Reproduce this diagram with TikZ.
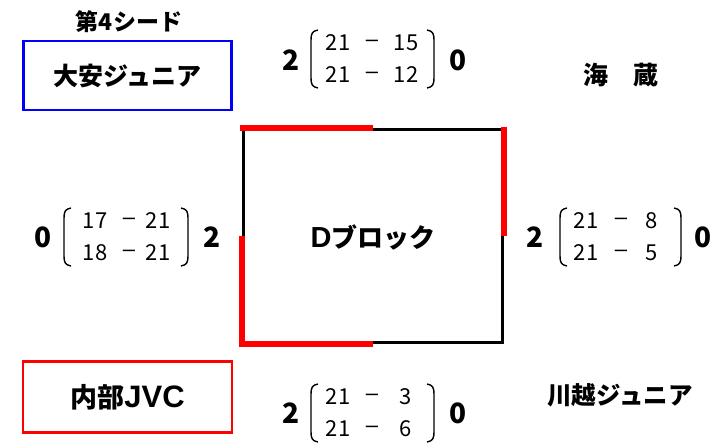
\documentclass[tikz,border=0pt]{standalone}
\usepackage{fontspec}
\setmainfont{Noto Sans CJK JP}
\newfontfamily\lat{Liberation Sans}
\newcommand\lparen[3]{\draw[parline] ({#1+7},{#2}) .. controls ({#1+1},{#2+1}) and ({#1},{#2+4}) .. ({#1},{#2+10}) -- ({#1},{#3-10}) .. controls ({#1},{#3-4}) and ({#1+1},{#3-1}) .. ({#1+7},{#3});}
\newcommand\rparen[3]{\draw[parline] ({#1-7},{#2}) .. controls ({#1-1},{#2+1}) and ({#1},{#2+4}) .. ({#1},{#2+10}) -- ({#1},{#3-10}) .. controls ({#1},{#3-4}) and ({#1-1},{#3-1}) .. ({#1-7},{#3});}
\tikzset{
  big/.style={font=\bfseries\fontsize{28}{28}\selectfont, inner sep=0pt},
  sc/.style={font=\fontsize{22}{22}\selectfont, inner sep=0pt},
  dsh/.style={font=\lat\fontsize{22}{22}\selectfont, inner sep=0pt},
  parline/.style={line width=1.4pt},
  tname/.style={font=\bfseries\fontsize{25}{25}\selectfont, inner sep=0pt},
  tbox/.style={draw, line width=2.5pt, minimum width=208pt, minimum height=69pt, font=\bfseries\fontsize{25}{25}\selectfont},
}
\begin{document}
\begin{tikzpicture}[x=1pt,y=-1pt]
\useasboundingbox (0,0) rectangle (727,444);
% teams
\node[font=\bfseries\fontsize{23}{23}\selectfont, inner sep=0pt] (seed) at (129,22) {第4シード};
\node[tbox, draw=blue] (taian) at (127.5,75.5) {大安ジュニア};
\node[tbox, draw=red, minimum width=209pt, minimum height=71pt, font=\bfseries\fontsize{27}{27}\selectfont] (uchibe) at (127.5,397) {内部{\lat\fontsize{31}{31}\selectfont JVC}};
\node[tname] (kaizo) at (621,75) {海　蔵};
\node[tname, font=\bfseries\fontsize{24.5}{24.5}\selectfont] (kawagoe) at (620,395) {川越ジュニア};
% block
\node[draw, line width=3pt, minimum width=259pt, minimum height=213pt, inner sep=0pt] (blk) at (372.5,236) {};
\node[font=\bfseries\fontsize{26}{26}\selectfont, inner sep=0pt] (blkname) at (373,237) {{\lat\fontsize{29}{29}\selectfont D}ブロック};
\draw[red, line width=6pt] ([xshift=-1.5pt]blk.north west) -- (blk.north);
\draw[red, line width=6pt] ([yshift=1.5pt]blk.north east) -- (blk.east);
\draw[red, line width=6pt] (blk.west) -- (blk.south west) -- (blk.south);
% top score
\node[big] (t1) at (291,60) {2};
\node[big] (t2) at (458,60) {0};
\node[sc] (t11) at (338,43) {21}; \node[dsh] (t12) at (372,43) {–}; \node[sc] (t13) at (406,43) {15};
\node[sc] (t21) at (338,75) {21}; \node[dsh] (t22) at (372,75) {–}; \node[sc] (t23) at (406,75) {12};
\lparen{311}{30}{88}
\rparen{434}{30}{88}
% bottom score
\node[big] (b1) at (291,413) {2};
\node[big] (b2) at (458,413) {0};
\node[sc] (b11) at (338,397) {21}; \node[dsh] (b12) at (372,397) {–}; \node[sc] (b13) at (406,397) {3};
\node[sc] (b21) at (338,429) {21}; \node[dsh] (b22) at (372,429) {–}; \node[sc] (b23) at (406,429) {6};
\lparen{311}{384}{442}
\rparen{434}{384}{442}
% left score
\node[big] (l1) at (43,237) {0};
\node[big] (l2) at (212,237) {2};
\node[sc] (l11) at (95,221) {17}; \node[dsh] (l12) at (129,221) {–}; \node[sc] (l13) at (158,221) {21};
\node[sc] (l21) at (95,253) {18}; \node[dsh] (l22) at (129,253) {–}; \node[sc] (l23) at (158,253) {21};
\lparen{64}{208}{266}
\rparen{188}{208}{266}
% right score
\node[big] (r1) at (535,237) {2};
\node[big] (r2) at (703,237) {0};
\node[sc] (r11) at (586,221) {21}; \node[dsh] (r12) at (621,221) {–}; \node[sc] (r13) at (652,221) {8};
\node[sc] (r21) at (586,253) {21}; \node[dsh] (r22) at (621,253) {–}; \node[sc] (r23) at (652,253) {5};
\lparen{560}{208}{266}
\rparen{681}{208}{266}
\end{tikzpicture}
\end{document}
